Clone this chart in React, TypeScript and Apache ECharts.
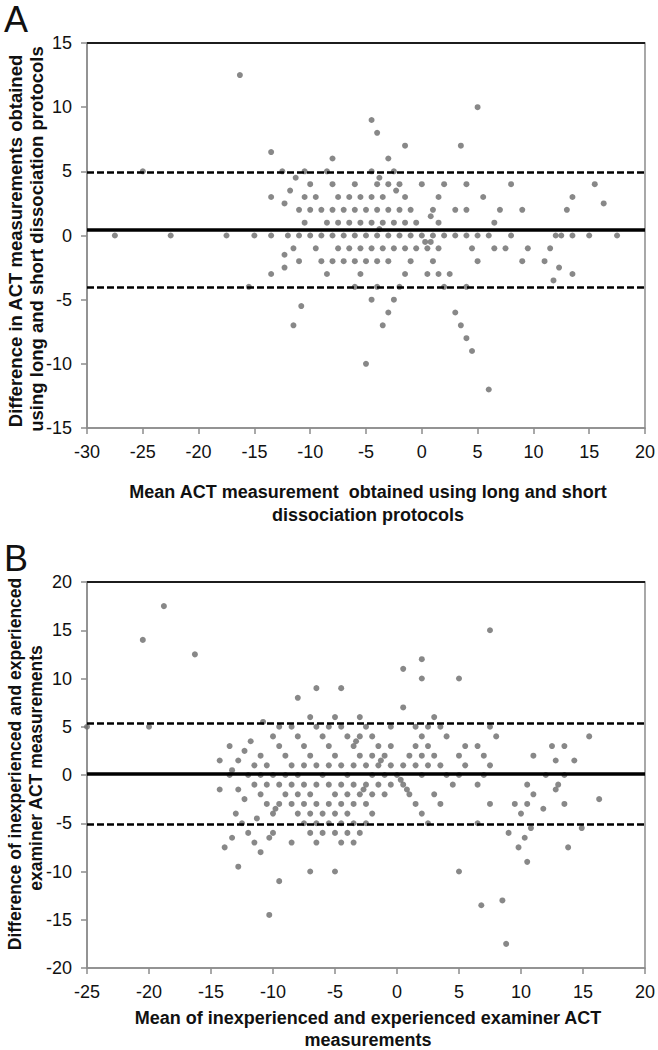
import React, { useEffect, useRef } from "react";
import * as echarts from "echarts";

const FONT = "'Liberation Sans', Arial, Helvetica, sans-serif";

// ---------- Panel A : long vs short dissociation protocols ----------
const xTicksA = { min: -30, max: 20, step: 5 };
const yTicksA = { min: -15, max: 15, step: 5 };
// difference levels (y) and the mean values (x) that sit on each level
const diffLevelsA = [
  12.5, 10, 9, 8, 7, 6.5, 6, 5, 4.5, 4, 3.5, 3, 2.5, 2, 1.5, 1, 0.5, 0, -0.5, -1,
  -1.5, -2, -2.5, -3, -3.5, -4, -5, -5.5, -6, -7, -8, -9, -10, -12,
];
const meansA = [
  [-16.3],
  [5],
  [-4.5],
  [-4],
  [-1.5, 3.5],
  [-13.5],
  [-8, -3],
  [-25, -12.5, -10.5, -8.5, -4.5, -2.5],
  [-11.3, -3.8],
  [-10, -8, -6, -4, -3, -2, 0, 2, 4, 8, 15.5],
  [-11.8, -2.3],
  [-13.5, -10.5, -9.5, -7.5, -6.5, -5.5, -4.5, -3.5, -1.5, 1.5, 5.5, 13.5],
  [-12.3, 16.3],
  [-11, -10, -9, -8, -7, -6, -5, -4, -3, -2, -1, 1, 3, 4, 7, 9, 13],
  [0.8],
  [-10.5, -8.5, -7.5, -6.5, -5.5, -4.5, -3.5, -2.5, -1.5, -0.5, 1.5, 6.5],
  [-3.8],
  [-27.5, -22.5, -17.5, -15, -13.5, -12, -11, -10, -9, -8, -7, -6, -5, -4, -3, -2, -1, 0, 1, 2, 3, 4, 5, 6, 8, 12, 12.5, 13.5, 15, 17.5],
  [0.3, 0.8],
  [-11.5, -9.5, -7.5, -6.5, -5.5, -4.5, -3.5, -2.5, -1.5, -0.5, 0.5, 1.5, 4.5, 6.5, 7.5, 9.5, 11.5],
  [-12.3],
  [-11, -9, -8, -7, -6, -5, -4, -3, -1, 1, 5, 9, 11],
  [-12.3, 12.3],
  [-13.5, -8.5, -5.5, -1.5, 0.5, 1.5, 2.5, 13.5],
  [11.8],
  [-15.5, -6, -4, -2, 2, 4],
  [-4.5, -2.5],
  [-10.8],
  [-3, 3],
  [-11.5, -3.5, 3.5],
  [4],
  [4.5],
  [-5],
  [6],
];
const biasA = 0.45;
const upperLoaA = 4.9;
const lowerLoaA = -4.0;

// ---------- Panel B : inexperienced vs experienced examiner ----------
const xTicksB = { min: -25, max: 20, step: 5 };
const yTicksB = { min: -20, max: 20, step: 5 };
const diffLevelsB = [
  17.5, 15, 14, 12.5, 12, 11, 10, 9, 8, 7, 6, 5.5, 5, 4, 3.5, 3, 2.5, 2, 1.5, 1,
  0.5, 0, -0.5, -1, -1.5, -2, -2.5, -3, -3.5, -4, -4.5, -5, -5.5, -6, -6.5, -7,
  -7.5, -8, -9, -9.5, -10, -11, -13, -13.5, -14.5, -17.5,
];
const meansB = [
  [-18.8],
  [7.5],
  [-20.5],
  [-16.3],
  [2],
  [0.5],
  [2, 5],
  [-6.5, -4.5],
  [-8],
  [0.5],
  [-7, -5, -3, 3],
  [-10.8],
  [-25, -20, -9.5, -8.5, -6.5, -5.5, -4.5, -2.5, -0.5, 1.5, 2.5, 3.5, 7.5],
  [-10, -8, -6, -4, -3, -2, 2, 4, 8, 15.5],
  [-11.8, -3.3],
  [-13.5, -9.5, -7.5, -5.5, -3.5, -1.5, -0.5, 1.5, 2.5, 5.5, 6.5, 12.5, 13.5],
  [-12.3],
  [-11, -9, -7, -5, -3, -2, -1, 1, 2, 3, 5, 7, 11],
  [-14.3, -12.8, -1.3, 12.8, 14.3],
  [-11.5, -10.5, -8.5, -7.5, -6.5, -5.5, -4.5, -3.5, -2.5, -1.5, -0.5, 0.5, 1.5, 2.5, 3.5, 5.5, 7.5],
  [-13.3],
  [-13.5, -12, -11, -10, -9, -8, -6, -4, -2, -1, 0, 2, 4, 5, 7, 12, 13.5],
  [0.3],
  [-11.5, -10.5, -9.5, -8.5, -7.5, -6.5, -5.5, -4.5, -3.5, -2.5, -1.5, -0.5, 0.5, 4.5, 6.5, 10.5, 13],
  [-14.3, -12.8, -2.7, 0.8, 12.8],
  [-11, -9, -8, -7, -5, -4, -3, -2, -1, 1, 3, 11],
  [-12.3, 16.3],
  [-10.5, -9.5, -8.5, -7.5, -6.5, -5.5, -4.5, -3.5, -2.5, 1.5, 3.5, 7.5, 9.5, 10.5, 13.5],
  [-9.8, 11.8],
  [-13, -10, -8, -7, -6, -5, -4, -2, 2, 10],
  [-11.3],
  [-12.5, -7.5, -6.5, -5.5, -4.5, -3.5, -2.5, 2.5, 6.5],
  [10.8, 14.9],
  [-12, -10, -7, -6, -5, -4, -3, 9],
  [-13.3, -10.3, 10.3],
  [-11.5, -8.5, -6.5, -4.5, -3.5],
  [-13.9, 9.8, 13.8],
  [-11],
  [10.5],
  [-12.8],
  [-7, -5, 5],
  [-9.5],
  [8.5],
  [6.8],
  [-10.3],
  [8.8],
];
const biasB = 0.17;
const upperLoaB = 5.35;
const lowerLoaB = -5.1;

const panelLetters = ["A", "B"];
const xTitleA = ["Mean ACT measurement  obtained using long and short", "dissociation protocols"];
const yTitleA = ["Difference in ACT measurements obtained", "using long and short dissociation protocols"];
const xTitleB = ["Mean of inexperienced and experienced examiner ACT", "measurements"];
const yTitleB = ["Difference of inexperienced and experienced", "examiner ACT measurements"];

function toPairs(levels: number[], means: number[][]) {
  const out: number[][] = [];
  levels.forEach((d, i) => means[i].forEach((m) => out.push([m, d])));
  return out;
}

const AXIS_COLOR = "#8c8c8c";
const POINT_COLOR = "#6a6a6a";

function valueAxis(gridIndex: number, t: { min: number; max: number; step: number }) {
  return {
    type: "value",
    gridIndex,
    min: t.min,
    max: t.max,
    interval: t.step,
    axisLine: { show: true, onZero: false, lineStyle: { color: AXIS_COLOR, width: 1.5 } },
    axisTick: { show: true, inside: false, length: 6, lineStyle: { color: AXIS_COLOR, width: 1.5 } },
    axisLabel: { color: "#111", fontSize: 18, fontFamily: FONT, margin: 15 },
    splitLine: { show: false },
  };
}

function refLines(bias: number, upper: number, lower: number, top: number) {
  return {
    silent: true,
    symbol: "none",
    label: { show: false },
    animation: false,
    data: [
      { yAxis: top, lineStyle: { color: "#1c1c1c", width: 2, type: "solid" } },
      { yAxis: upper, lineStyle: { color: "#000", width: 2.5, type: [7, 3] } },
      { yAxis: lower, lineStyle: { color: "#000", width: 2.5, type: [7, 3] } },
      { yAxis: bias, lineStyle: { color: "#000", width: 3.5, type: "solid" } },
    ],
  };
}

function txt(text: string, x: number, y: number, size: number, bold: boolean, rotation = 0, align = "center", vAlign = "middle") {
  return {
    type: "text",
    x,
    y,
    rotation,
    silent: true,
    style: {
      text,
      fill: "#111",
      fontSize: size,
      fontWeight: bold ? "bold" : "normal",
      fontFamily: FONT,
      textAlign: align,
      align,
      textVerticalAlign: vAlign,
      verticalAlign: vAlign,
    },
  };
}

export default function App() {
  const ref = useRef<HTMLDivElement>(null);

  useEffect(() => {
    if (!ref.current) return;
    const chart = echarts.init(ref.current, undefined, { renderer: "svg" });
    const dataA = toPairs(diffLevelsA, meansA);
    const dataB = toPairs(diffLevelsB, meansB);

    const option = {
      animation: false,
      backgroundColor: "#fff",
      grid: [
        { left: 87, top: 43, width: 561, height: 385, show: true, borderColor: AXIS_COLOR, borderWidth: 1.5, containLabel: false },
        { left: 87, top: 582, width: 560, height: 386, show: true, borderColor: AXIS_COLOR, borderWidth: 1.5, containLabel: false },
      ],
      xAxis: [valueAxis(0, xTicksA), valueAxis(1, xTicksB)],
      yAxis: [valueAxis(0, yTicksA), valueAxis(1, yTicksB)],
      series: [
        {
          type: "scatter",
          xAxisIndex: 0,
          yAxisIndex: 0,
          data: dataA,
          symbol: "circle",
          symbolSize: 6,
          itemStyle: { color: POINT_COLOR },
          markLine: refLines(biasA, upperLoaA, lowerLoaA, yTicksA.max),
        },
        {
          type: "scatter",
          xAxisIndex: 1,
          yAxisIndex: 1,
          data: dataB,
          symbol: "circle",
          symbolSize: 6,
          itemStyle: { color: POINT_COLOR },
          markLine: refLines(biasB, upperLoaB, lowerLoaB, yTicksB.max),
        },
      ],
      graphic: [
        txt(panelLetters[0], 4, 1, 36, false, 0, "left", "top"),
        txt(panelLetters[1], 4, 540, 36, false, 0, "left", "top"),
        txt(xTitleA[0], 368, 492, 18, true),
        txt(xTitleA[1], 368, 515, 18, true),
        txt(yTitleA[0], 15, 241, 18.5, true, Math.PI / 2),
        txt(yTitleA[1], 36, 239, 18.5, true, Math.PI / 2),
        txt(xTitleB[0], 368, 1018, 18, true),
        txt(xTitleB[1], 368, 1040, 18, true),
        txt(yTitleB[0], 15, 764, 17.5, true, Math.PI / 2),
        txt(yTitleB[1], 36, 768, 17.5, true, Math.PI / 2),
      ],
    };
    chart.setOption(option as any);
    return () => chart.dispose();
  }, []);

  return (
    <div
      ref={ref}
      style={{ position: "absolute", left: 0, top: 0, width: 658, height: 1050, background: "#fff" }}
    />
  );
}
